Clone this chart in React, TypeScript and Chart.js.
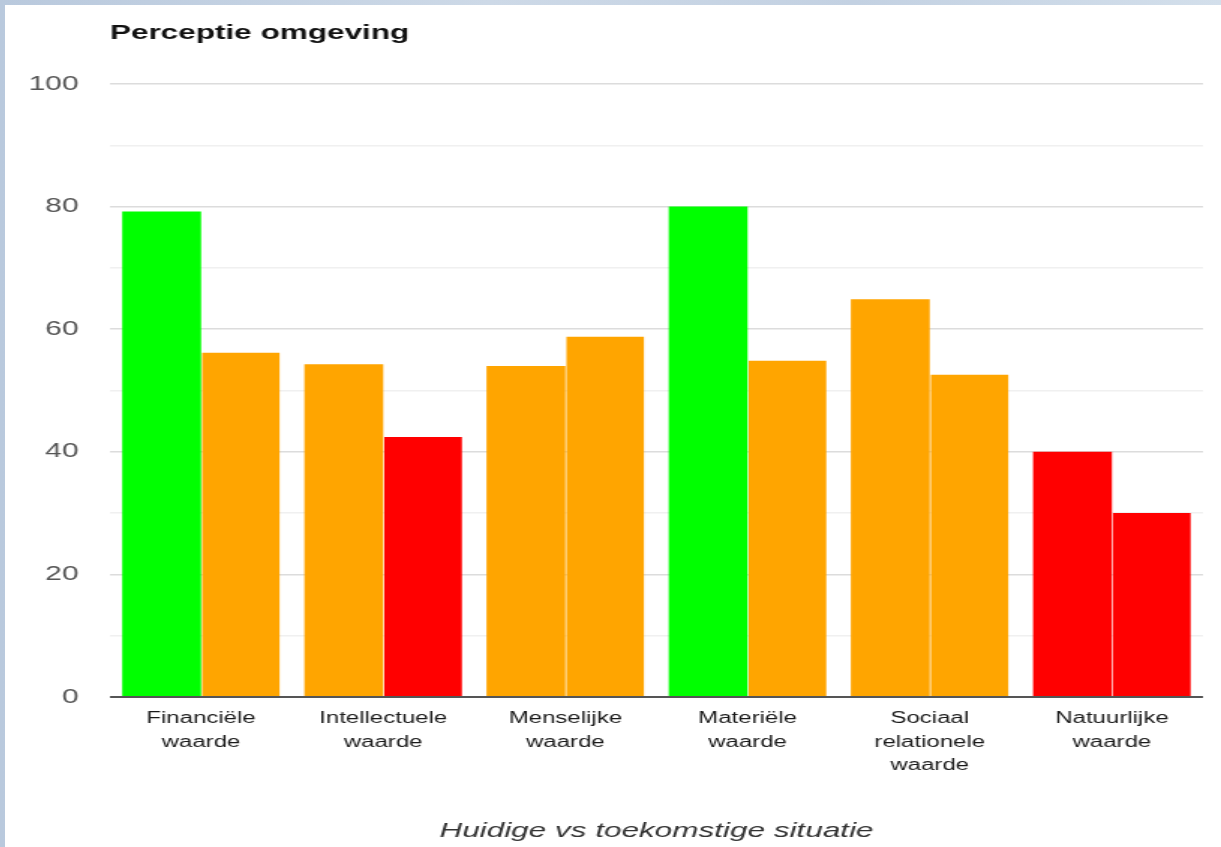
import React, { useEffect, useRef } from "react";
import { Chart, registerables } from "chart.js";

Chart.register(...registerables);

const categories: string[][] = [
  ["Financiële", "waarde"],
  ["Intellectuele", "waarde"],
  ["Menselijke", "waarde"],
  ["Materiële", "waarde"],
  ["Sociaal", "relationele", "waarde"],
  ["Natuurlijke", "waarde"],
];
const huidige: number[] = [79.2, 54.3, 54.0, 80.0, 64.9, 40.0];
const toekomstige: number[] = [56.2, 42.4, 58.8, 54.9, 52.6, 30.0];

const GREEN = "#00ff00";
const ORANGE = "#ffa500";
const RED = "#ff0000";
const huidigeColors: string[] = [GREEN, ORANGE, ORANGE, GREEN, ORANGE, RED];
const toekomstigeColors: string[] = [ORANGE, RED, ORANGE, ORANGE, ORANGE, RED];

const chartTitle = "Perceptie omgeving";
const xTitle = "Huidige vs toekomstige situatie";
const yTickLabels: number[] = [0, 20, 40, 60, 80, 100];

const FONT = '"Liberation Sans", Arial, Helvetica, sans-serif';
const STRETCH = 1.5;
const PANEL_W = 1216;
const PANEL_H = 842;
const LOGICAL_W = Math.round(PANEL_W / STRETCH);

const textPlugin = {
  id: "customTexts",
  afterDraw(chart: any) {
    const ctx = chart.ctx;
    const area = chart.chartArea;
    ctx.save();
    ctx.fillStyle = "#111";
    ctx.font = `bold 21px ${FONT}`;
    ctx.textAlign = "left";
    ctx.textBaseline = "middle";
    ctx.fillText(chartTitle, area.left, 28);
    ctx.fillStyle = "#333";
    ctx.font = `italic 21px ${FONT}`;
    ctx.textAlign = "center";
    ctx.fillText(xTitle, (area.left + area.right) / 2, 826);
    ctx.restore();
  },
};

export default function App() {
  const ref = useRef<HTMLCanvasElement | null>(null);

  useEffect(() => {
    const canvas = ref.current;
    if (!canvas) return;
    const chart = new Chart(canvas, {
      type: "bar",
      data: {
        labels: categories,
        datasets: [
          {
            label: "Huidige situatie",
            data: huidige,
            backgroundColor: huidigeColors,
            borderWidth: 0,
          },
          {
            label: "Toekomstige situatie",
            data: toekomstige,
            backgroundColor: toekomstigeColors,
            borderColor: "rgba(255,255,255,0.3)",
            borderWidth: { left: 0.7, right: 0, top: 0, bottom: 0 },
            borderSkipped: false,
          },
        ],
      },
      options: {
        responsive: false,
        animation: false,
        devicePixelRatio: 1,
        layout: { padding: { top: 79, right: 12, left: 0, bottom: 0 } },
        plugins: {
          legend: { display: false },
          title: { display: false },
          tooltip: { enabled: false },
        },
        datasets: {
          bar: { categoryPercentage: 0.866, barPercentage: 1 },
        },
        scales: {
          x: {
            grid: { display: false, drawTicks: false },
            border: { display: false },
            ticks: {
              padding: 10,
              color: "#1a1a1a",
              font: { family: FONT, size: 16, lineHeight: 1.47 },
              maxRotation: 0,
              autoSkip: false,
            },
            afterFit: (scale: any) => {
              scale.height = 150;
            },
          },
          y: {
            min: 0,
            max: 100,
            border: { display: false },
            grid: {
              drawTicks: false,
              color: (c: any) => {
                const v = c.tick ? c.tick.value : 0;
                if (v === 0) return "#555";
                if (v % 20 === 0) return "#dcdcdc";
                return "#f0f0f0";
              },
              lineWidth: (c: any) => (c.tick && c.tick.value === 0 ? 2 : 1.5),
            },
            ticks: {
              stepSize: 10,
              autoSkip: false,
              padding: 21,
              color: "#555",
              font: { family: FONT, size: 20 },
              callback: (v: any) => (yTickLabels.includes(Number(v)) ? String(v) : ""),
            },
            afterFit: (scale: any) => {
              scale.width = 70;
            },
          },
        },
      },
      plugins: [textPlugin],
    });
    return () => chart.destroy();
  }, []);

  return (
    <div
      style={{
        position: "fixed",
        inset: 0,
        background: "linear-gradient(90deg, #b9c9dd 0%, #cdd9e7 40%, #c3d1e2 70%, #d3dfeb 100%)",
      }}
    >
      <div
        style={{
          position: "absolute",
          left: 5,
          top: 5,
          width: PANEL_W,
          height: PANEL_H,
          background: "#fff",
        }}
      >
        <canvas
          ref={ref}
          width={LOGICAL_W}
          height={PANEL_H}
          style={{ width: PANEL_W + "px", height: PANEL_H + "px", display: "block" }}
        />
      </div>
    </div>
  );
}
